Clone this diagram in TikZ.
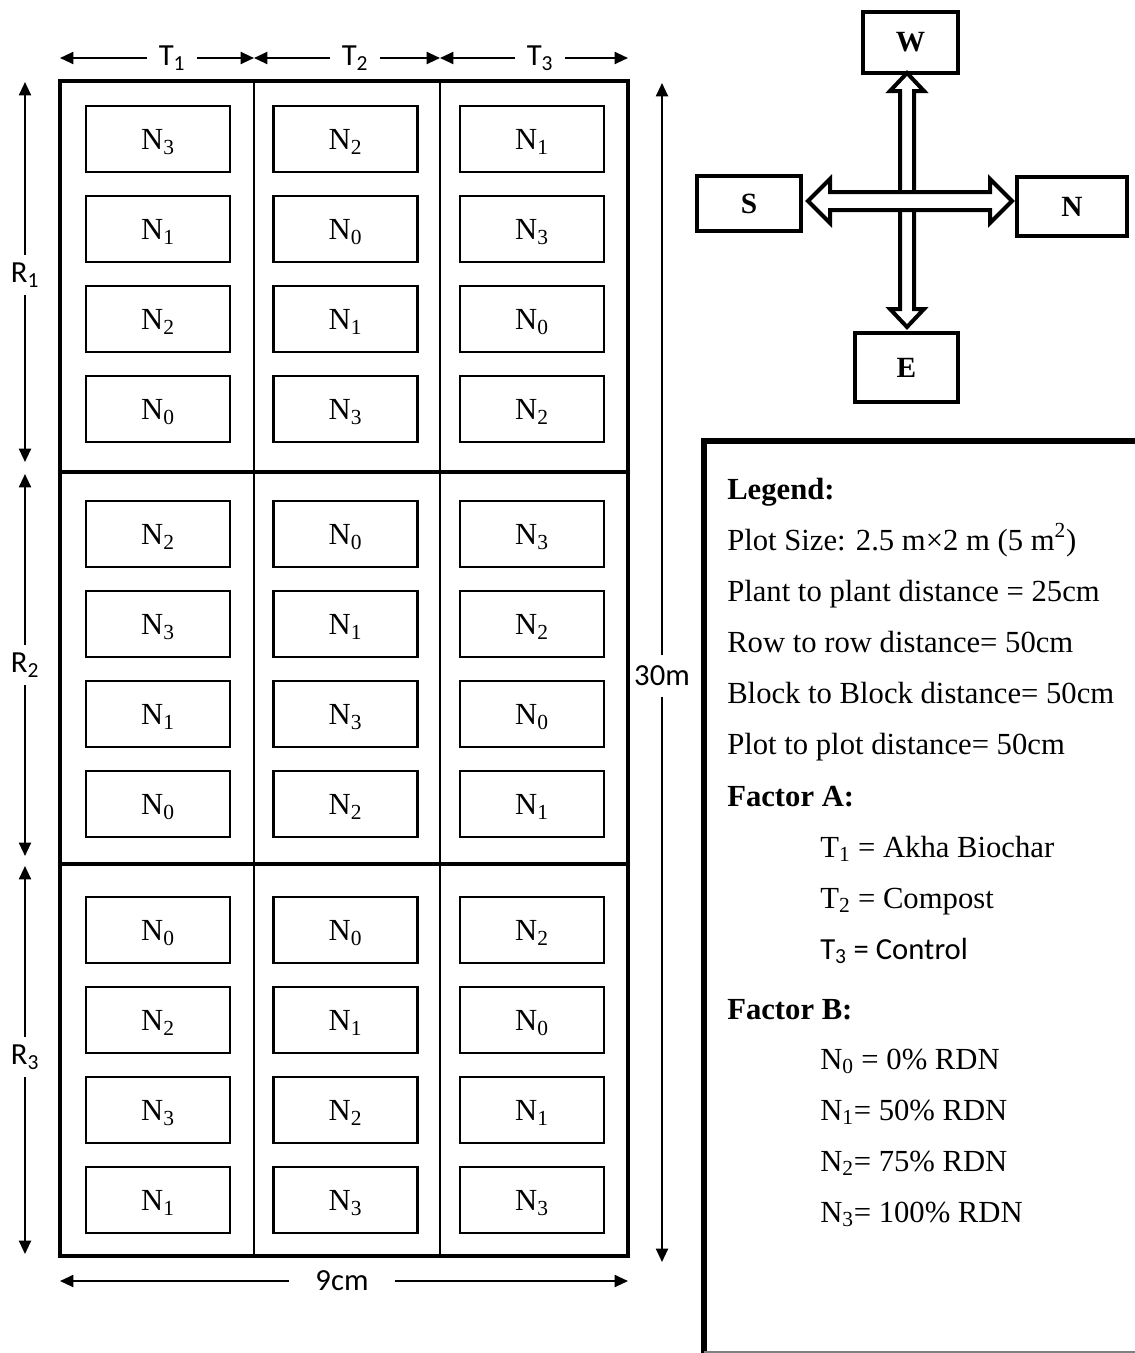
\documentclass[tikz,border=0pt]{standalone}
\usepackage{fontspec}
\setmainfont{Liberation Serif}
\newfontfamily\calib{Carlito}
\usetikzlibrary{arrows.meta}
\begin{document}
\begin{tikzpicture}[x=0.75pt,y=-0.75pt,
  plotbox/.style={draw, line width=1.9pt, minimum width=108pt, minimum height=49.5pt, inner sep=0pt, text depth=0pt, font=\fontsize{23}{27}\selectfont},
  dimlab/.style={font=\calib\fontsize{23}{27}\selectfont, inner sep=0pt},
  dimarrow/.style={-{Triangle[length=10pt,width=9pt]}, line width=1.5pt},
  cbox/.style={draw, line width=2.8pt, inner sep=0pt, font=\bfseries\fontsize{22}{26}\selectfont},
  legtxt/.style={anchor=base west, inner sep=0pt, font=\fontsize{23}{27}\selectfont},
  hollow/.style={draw, line width=3pt, fill=white, line join=miter}
]
\useasboundingbox (0,0) rectangle (1135,1353);

% ---- field frame ----
\draw[line width=2.3pt] (60,81) rectangle (628,1256);
\draw[line width=1.6pt] (254,81) -- (254,1256) (440,81) -- (440,1256);
\draw[line width=3pt] (60,472) -- (628,472) (60,864) -- (628,864);

% ---- plots ----
\foreach \y/\a/\b/\c [count=\i] in {139/3/2/1, 229/1/0/3, 319/2/1/0, 409/0/3/2,
                                     534/2/0/3, 624/3/1/2, 714/1/3/0, 804/0/2/1,
                                     930/0/0/2, 1020/2/1/0, 1110/3/2/1, 1200/1/3/3}{
  \node[plotbox] (p\i a) at (158,\y) {N\textsubscript{\a}};
  \node[plotbox] (p\i b) at (345.5,\y) {N\textsubscript{\b}};
  \node[plotbox] (p\i c) at (532,\y) {N\textsubscript{\c}};
}

% ---- top dimension arrows ----
\foreach \l/\r/\m/\k in {60/254/172/1, 254/440/355/2, 440/628/540/3}{
  \coordinate (tl\k) at (\l,58);
  \coordinate (tr\k) at (\r,58);
  \node[dimlab, outer xsep=9pt] (t\k) at (\m,58) {T\textsubscript{\k}};
  \draw[dimarrow] (t\k) -- (tl\k);
  \draw[dimarrow] (t\k) -- (tr\k);
}

% ---- left dimension arrows ----
\foreach \t/\b/\m/\k in {82/462/275/1, 474/856/665/2, 866/1254/1057/3}{
  \coordinate (rt\k) at (25,\t);
  \coordinate (rb\k) at (25,\b);
  \node[dimlab, outer ysep=6pt] (r\k) at (25,\m) {R\textsubscript{\k}};
  \draw[dimarrow] (r\k) -- (rt\k);
  \draw[dimarrow] (r\k) -- (rb\k);
}

% ---- right dimension arrow ----
\coordinate (ht) at (662,83);
\coordinate (hb) at (662,1262);
\node[dimlab, outer ysep=8pt] (h) at (662,676) {30m};
\draw[dimarrow] (h) -- (ht);
\draw[dimarrow] (h) -- (hb);

% ---- bottom dimension arrow ----
\coordinate (wl) at (60,1281);
\coordinate (wr) at (628,1281);
\node[dimlab, outer xsep=20pt] (w) at (342,1281) {9cm};
\draw[dimarrow] (w) -- (wl);
\draw[dimarrow] (w) -- (wr);

% ---- compass ----
\node[cbox, minimum width=71pt, minimum height=46pt] (W) at (910.5,42.5) {W};
\node[cbox, minimum width=78pt, minimum height=41pt] (S) at (749,203.5) {S};
\node[cbox, minimum width=82.5pt, minimum height=44pt] (N) at (1072,206.5) {N};
\node[cbox, minimum width=77pt, minimum height=52pt] (E) at (906.5,367.5) {E};
\draw[hollow] (907,73) -- (924,91) -- (914,91) -- (914,309) -- (924,309) -- (907,327)
  -- (890,309) -- (900,309) -- (900,91) -- (890,91) -- cycle;
\draw[hollow] (808,201) -- (830,179) -- (830,192) -- (990,192) -- (990,179) -- (1012,201)
  -- (990,223) -- (990,210) -- (830,210) -- (830,223) -- cycle;

% ---- legend ----
\draw[line width=4pt] (704,1360) -- (704,441) -- (1140,441);
\draw[gray, line width=1pt] (704,1352) -- (1140,1352);
\node[legtxt, font=\bfseries\fontsize{23}{27}\selectfont] (lg0) at (727,499) {Legend:};
\node[legtxt] (lg1) at (727,550) {Plot Size: 2.5 m×2 m (5 m\textsuperscript{2})};
\node[legtxt] (lg2) at (727,601) {Plant to plant distance = 25cm};
\node[legtxt] (lg3) at (727,652) {Row to row distance= 50cm};
\node[legtxt] (lg4) at (727,703) {Block to Block distance= 50cm};
\node[legtxt] (lg5) at (727,754) {Plot to plot distance= 50cm};
\node[legtxt, font=\bfseries\fontsize{23}{27}\selectfont] (lg6) at (727,806) {Factor A:};
\node[legtxt] (lg7) at (820,857) {T\textsubscript{1} = Akha Biochar};
\node[legtxt] (lg8) at (820,908) {T\textsubscript{2} = Compost};
\node[legtxt, font=\calib\fontsize{23}{27}\selectfont] (lg9) at (820,959) {T\textsubscript{3} = Control};
\node[legtxt, font=\bfseries\fontsize{23}{27}\selectfont] (lg10) at (727,1019) {Factor B:};
\node[legtxt] (lg11) at (820,1069) {N\textsubscript{0} = 0\% RDN};
\node[legtxt] (lg12) at (820,1120) {N\textsubscript{1}= 50\% RDN};
\node[legtxt] (lg13) at (820,1171) {N\textsubscript{2}= 75\% RDN};
\node[legtxt] (lg14) at (820,1222) {N\textsubscript{3}= 100\% RDN};
\end{tikzpicture}
\end{document}
